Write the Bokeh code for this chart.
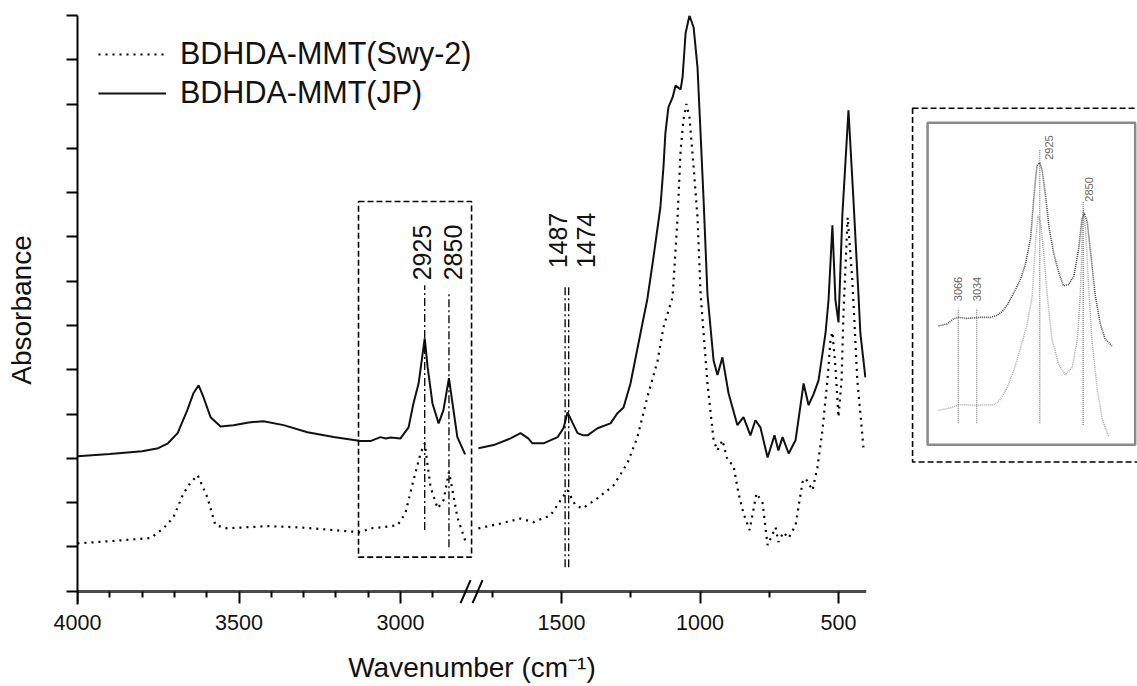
import math
import numpy as np
from bokeh.plotting import figure
from bokeh.models import (Range1d, FixedTicker, CustomJSTickFormatter, BoxAnnotation,
                          Arrow, Legend, LegendItem, ColumnDataSource, LinearAxis)
from bokeh.layouts import row
from bokeh.core.properties import value
from bokeh.embed import file_html
from bokeh.resources import INLINE

# ---------------- data ----------------
# BDHDA-MMT(JP), high-wavenumber segment
jp_left_wn = [4000, 3900, 3800, 3750, 3720, 3690, 3660, 3641, 3625, 3610, 3588, 3557, 3517,
              3470, 3424, 3362, 3288, 3207, 3124, 3093, 3062, 3045, 3031, 3000, 2975, 2960,
              2944, 2925, 2916, 2901, 2882, 2867, 2850, 2839, 2824, 2800]
jp_left_abs = [3.05, 3.10, 3.16, 3.23, 3.34, 3.57, 4.09, 4.47, 4.65, 4.38, 3.93, 3.72, 3.75,
               3.81, 3.84, 3.75, 3.59, 3.48, 3.39, 3.39, 3.48, 3.45, 3.47, 3.45, 3.70, 4.24,
               4.69, 5.71, 5.06, 4.24, 3.79, 4.09, 4.81, 4.24, 3.48, 3.09]
# BDHDA-MMT(JP), fingerprint segment
jp_right_wn = [1800, 1745, 1684, 1648, 1620, 1605, 1565, 1514, 1493, 1478, 1460, 1442, 1421,
               1406, 1370, 1323, 1298, 1276, 1251, 1215, 1190, 1168, 1143, 1132, 1125, 1114,
               1099, 1088, 1070, 1063, 1052, 1038, 1023, 1009, 998, 987, 973, 951, 937, 919,
               897, 865, 843, 818, 800, 782, 756, 731, 717, 702, 680, 655, 626, 608, 590, 572,
               547, 536, 522, 511, 500, 486, 464, 446, 428, 421, 403]
jp_right_abs = [3.23, 3.30, 3.45, 3.57, 3.45, 3.34, 3.34, 3.48, 3.68, 4.04, 3.80, 3.57, 3.52,
                3.52, 3.68, 3.79, 4.02, 4.15, 4.69, 5.82, 6.60, 7.54, 8.67, 9.57, 10.34, 10.93,
                11.15, 11.42, 11.33, 11.60, 12.60, 13.00, 12.73, 11.83, 10.34, 8.83, 6.70, 5.21,
                4.88, 5.28, 4.47, 3.75, 3.93, 3.52, 3.86, 3.70, 3.02, 3.52, 3.18, 3.48, 3.11,
                3.41, 4.69, 4.20, 4.45, 4.76, 5.82, 6.57, 8.26, 6.57, 6.07, 8.50, 10.86, 8.83,
                6.70, 5.82, 4.83]
# BDHDA-MMT(Swy-2), high-wavenumber segment
swy_left_wn = [4000, 3900, 3774, 3734, 3703, 3672, 3650, 3628, 3598, 3573, 3536, 3412, 3310,
               3207, 3124, 3093, 3062, 3009, 2985, 2960, 2938, 2925, 2907, 2885, 2867, 2850,
               2839, 2824, 2800]
swy_left_abs = [1.08, 1.13, 1.20, 1.42, 1.67, 2.21, 2.45, 2.62, 2.12, 1.49, 1.42, 1.47, 1.44,
                1.38, 1.33, 1.42, 1.44, 1.49, 1.76, 2.50, 3.11, 3.34, 2.35, 1.87, 2.05, 2.69,
                2.28, 1.67, 1.15]
# BDHDA-MMT(Swy-2), fingerprint segment
swy_right_wn = [1800, 1720, 1648, 1601, 1540, 1496, 1478, 1450, 1424, 1370, 1312, 1262, 1226,
                1190, 1153, 1132, 1099, 1081, 1070, 1060, 1049, 1038, 1023, 1009, 998, 987,
                973, 951, 937, 919, 901, 879, 861, 843, 821, 796, 774, 756, 727, 717, 699, 680,
                655, 630, 619, 594, 576, 558, 540, 529, 522, 511, 500, 489, 482, 467, 450, 432,
                410]
swy_right_abs = [1.42, 1.53, 1.64, 1.56, 1.71, 2.12, 2.28, 1.94, 1.87, 2.10, 2.39, 2.89, 3.48,
                 4.38, 5.21, 5.96, 6.64, 8.44, 9.95, 10.63, 11.00, 10.70, 9.57, 8.44, 6.73,
                 5.82, 4.69, 3.41, 3.18, 3.41, 2.96, 2.84, 2.21, 1.76, 1.38, 2.21, 1.99, 1.04,
                 1.44, 1.11, 1.33, 1.20, 1.49, 2.46, 2.55, 2.28, 2.80, 3.63, 4.76, 5.67, 5.85,
                 5.06, 3.93, 4.76, 6.28, 8.44, 7.02, 4.76, 3.25]

peak_wn = [2925, 2850, 1487, 1474]
peak_labels = ["2925", "2850", "1487", "1474"]

x_major_wn = [4000, 3500, 3000, 1500, 1000, 500]
x_minor_wn = [3900, 3800, 3700, 3600, 3400, 3300, 3200, 3100, 2900, 1750, 1250, 750]
y_ticks = list(range(0, 14))

# inset (enlarged 3100-2800 cm-1 region)
inset_jp_wn = [3100, 3085, 3074, 3065, 3051, 3028, 3010, 2999, 2990, 2981, 2970, 2958, 2950,
               2941, 2935, 2930, 2925, 2921, 2915, 2909, 2901, 2892, 2884, 2875, 2866, 2858,
               2852, 2848, 2843, 2837, 2829, 2820, 2812, 2800]
inset_jp_abs = [7.91, 7.97, 8.12, 8.16, 8.13, 8.16, 8.16, 8.22, 8.33, 8.53, 8.87, 9.28, 9.70,
                10.45, 11.70, 12.58, 12.66, 12.45, 11.70, 10.78, 10.03, 9.45, 9.08, 9.12, 9.37,
                10.12, 11.03, 11.20, 10.95, 10.03, 8.78, 7.95, 7.53, 7.33]
inset_swy_wn = [3100, 3079, 3065, 3033, 3002, 2993, 2981, 2970, 2958, 2947, 2938, 2932, 2928,
                2924, 2918, 2912, 2904, 2892, 2881, 2869, 2860, 2855, 2850, 2846, 2841, 2835,
                2826, 2817, 2806]
inset_swy_abs = [5.45, 5.53, 5.62, 5.60, 5.62, 5.78, 6.12, 6.62, 7.28, 7.95, 8.78, 10.45, 11.12,
                 10.95, 10.03, 8.78, 7.53, 6.78, 6.49, 6.70, 7.53, 8.78, 11.28, 10.78, 9.20,
                 7.53, 6.12, 5.20, 4.70]
inset_peak_wn = [3066, 3034, 2925, 2850]
inset_peak_labels = ["3066", "3034", "2925", "2850"]

# ---------------- broken-axis transform ----------------
KL, KR, OFF, SPLIT = 0.323, 0.277, 484.0, 394.0


def tx(w):
    w = np.asarray(w, dtype=float)
    return np.where(w >= 2300, (4000.0 - w) * KL, OFF + (1500.0 - w) * KR)


def joined(lw, la, rw, ra):
    xs = np.concatenate([tx(lw), [np.nan], tx(rw)])
    ys = np.concatenate([la, [np.nan], ra])
    return xs, ys


FONT = "Liberation Sans"
Y0 = -0.3  # a little room below the x axis (axis line is pinned at 0)
major_t = [float(v) for v in tx(x_major_wn)]
minor_t = [float(v) for v in tx(x_minor_wn)]

p = figure(width=882, height=686, x_range=Range1d(0, 789), y_range=Range1d(Y0, 13),
           output_backend="svg", toolbar_location=None,
           min_border_left=77, min_border_right=16, min_border_top=15, min_border_bottom=82)
p.grid.visible = False
p.outline_line_color = None
p.background_fill_color = "white"
p.border_fill_color = "white"

# x axis line + long ticks, pinned at absorbance 0 (no labels: ticks given as minor ticks)
xa = p.xaxis[0]
xa.fixed_location = 0
xa.ticker = FixedTicker(ticks=[], minor_ticks=major_t)
xa.axis_line_color = "#4a4a4a"
xa.axis_line_width = 3
xa.major_tick_out = 12
xa.major_tick_in = 0
xa.minor_tick_line_color = "black"
xa.minor_tick_line_width = 2
xa.minor_tick_out = 12
xa.minor_tick_in = 0

# short ticks
xb = LinearAxis(fixed_location=0, ticker=FixedTicker(ticks=[], minor_ticks=minor_t),
                axis_line_color=None, major_tick_out=6, major_tick_in=0,
                minor_tick_line_color="black", minor_tick_line_width=2,
                minor_tick_out=6, minor_tick_in=0)
p.add_layout(xb, "below")

# tick labels and axis title
xl = LinearAxis(ticker=FixedTicker(ticks=major_t, minor_ticks=[]),
                formatter=CustomJSTickFormatter(
                    args=dict(kl=KL, kr=KR, off=OFF, split=SPLIT),
                    code="const w = tick < split ? 4000 - tick / kl : 1500 - (tick - off) / kr;"
                         " return Math.round(w).toString();"),
                axis_line_color=None, major_tick_line_color=None, major_tick_out=0,
                major_tick_in=0, minor_tick_line_color=None, minor_tick_out=0, minor_tick_in=0,
                major_label_text_font=FONT, major_label_text_font_size="21.5px",
                major_label_text_color="#111", major_label_standoff=10,
                axis_label="Wavenumber (cm\u207b\u00b9)", axis_label_text_font=FONT,
                axis_label_text_font_style="normal", axis_label_text_font_size="28px",
                axis_label_text_color="#111", axis_label_standoff=19)
p.add_layout(xl, "below")

# y axis: unlabeled ticks (drawn as minor ticks, so no tick labels exist)
ya = p.yaxis[0]
ya.ticker = FixedTicker(ticks=[], minor_ticks=y_ticks)
ya.axis_line_color = "black"
ya.axis_line_width = 2
ya.major_tick_out = 11
ya.major_tick_in = 0
ya.minor_tick_line_color = "black"
ya.minor_tick_line_width = 2
ya.minor_tick_out = 11
ya.minor_tick_in = 0
ya.major_label_standoff = 0
ya.axis_label = "Absorbance"
ya.axis_label_text_font = FONT
ya.axis_label_text_font_style = "normal"
ya.axis_label_text_font_size = "28px"
ya.axis_label_text_color = "#111"
ya.axis_label_standoff = 30

# spectra
sx, sy = joined(swy_left_wn, swy_left_abs, swy_right_wn, swy_right_abs)
jx, jy = joined(jp_left_wn, jp_left_abs, jp_right_wn, jp_right_abs)
r_swy = p.line(sx, sy, line_color="black", line_width=2.2, line_dash="2 5")
r_jp = p.line(jx, jy, line_color="#111", line_width=2)

# dashed box around the C-H stretching region
p.add_layout(BoxAnnotation(left=float(tx(3130)), right=float(tx(2780)), bottom=0.77, top=8.80,
                           fill_alpha=0, line_color="black", line_alpha=1, line_width=1.6,
                           line_dash="6 3"))

# peak marker lines and labels
peak_top = [6.91, 6.73, 6.91, 6.91]
peak_bot = [1.38, 0.99, 0.54, 0.54]
label_y = [7.02, 7.02, 7.29, 7.29]
label_dx = [-3, 4, -7, 17]
psrc = ColumnDataSource(dict(x=tx(peak_wn), y0=peak_bot, y1=peak_top, ly=label_y,
                             txt=peak_labels, dx=label_dx))
p.segment(x0="x", y0="y0", x1="x", y1="y1", source=psrc, line_color="black",
          line_width=1.3, line_dash="8 3 2 3")
p.text(x="x", y="ly", text="txt", source=psrc, angle=math.pi / 2, x_offset="dx",
       text_align="left", text_baseline="middle", text_font=value(FONT),
       text_font_size="25px", text_color="#111")

# axis break marks "//"
gc = float((tx(2800) + tx(1800)) / 2)
for dxm in (-6.2, 5.8):
    p.add_layout(Arrow(end=None, start=None, x_start=gc + dxm - 5, y_start=-0.27,
                       x_end=gc + dxm + 5, y_end=0.25, line_color="black", line_width=2))

legend = Legend(items=[LegendItem(label="BDHDA-MMT(Swy-2)", renderers=[r_swy]),
                       LegendItem(label="BDHDA-MMT(JP)", renderers=[r_jp])],
                location="top_left", margin=21, padding=0, spacing=4,
                glyph_width=68, glyph_height=30, label_standoff=14,
                label_text_font=FONT, label_text_font_size="30.5px", label_text_color="#111",
                border_line_color=None, background_fill_alpha=0)
p.add_layout(legend)

# ---------------- inset ----------------
q = figure(width=255, height=686, x_range=Range1d(3197, 2756), y_range=Range1d(-0.2, 16.95),
           x_axis_type=None, y_axis_type=None, output_backend="svg", toolbar_location=None,
           min_border_left=0, min_border_right=0, min_border_top=0, min_border_bottom=0)
q.outline_line_color = None
q.grid.visible = False
q.add_layout(BoxAnnotation(left=3145, right=2600, bottom=3.95, top=14.25, fill_alpha=0,
                           line_color="black", line_alpha=1, line_width=1.6, line_dash="6 3"))
q.quad(left=[3119], right=[2760], bottom=[4.45], top=[13.83], fill_alpha=0,
       line_color="#8a8a8a", line_width=2.5)
q.line(inset_swy_wn, inset_swy_abs, line_color="#a8a8a8", line_width=1.5, line_dash="1 1")
q.line(inset_jp_wn, inset_jp_abs, line_color="#444", line_width=1.6, line_dash="1 1")
isrc = ColumnDataSource(dict(x=inset_peak_wn, y0=[5.08, 5.08, 5.08, 5.03],
                             y1=[8.41, 8.41, 13.03, 11.53], ly=[8.63, 8.63, 12.75, 11.53],
                             txt=inset_peak_labels, dx=[0, 0, 9, 6]))
q.segment(x0="x", y0="y0", x1="x", y1="y1", source=isrc, line_color="#777",
          line_width=1.2, line_dash="1 1")
q.text(x="x", y="ly", text="txt", source=isrc, angle=math.pi / 2, x_offset="dx",
       text_align="left", text_baseline="middle", text_font=value(FONT),
       text_font_size="11px", text_color="#666")

layout = row(p, q, spacing=0)
open("out.html", "w").write(file_html(layout, INLINE))
